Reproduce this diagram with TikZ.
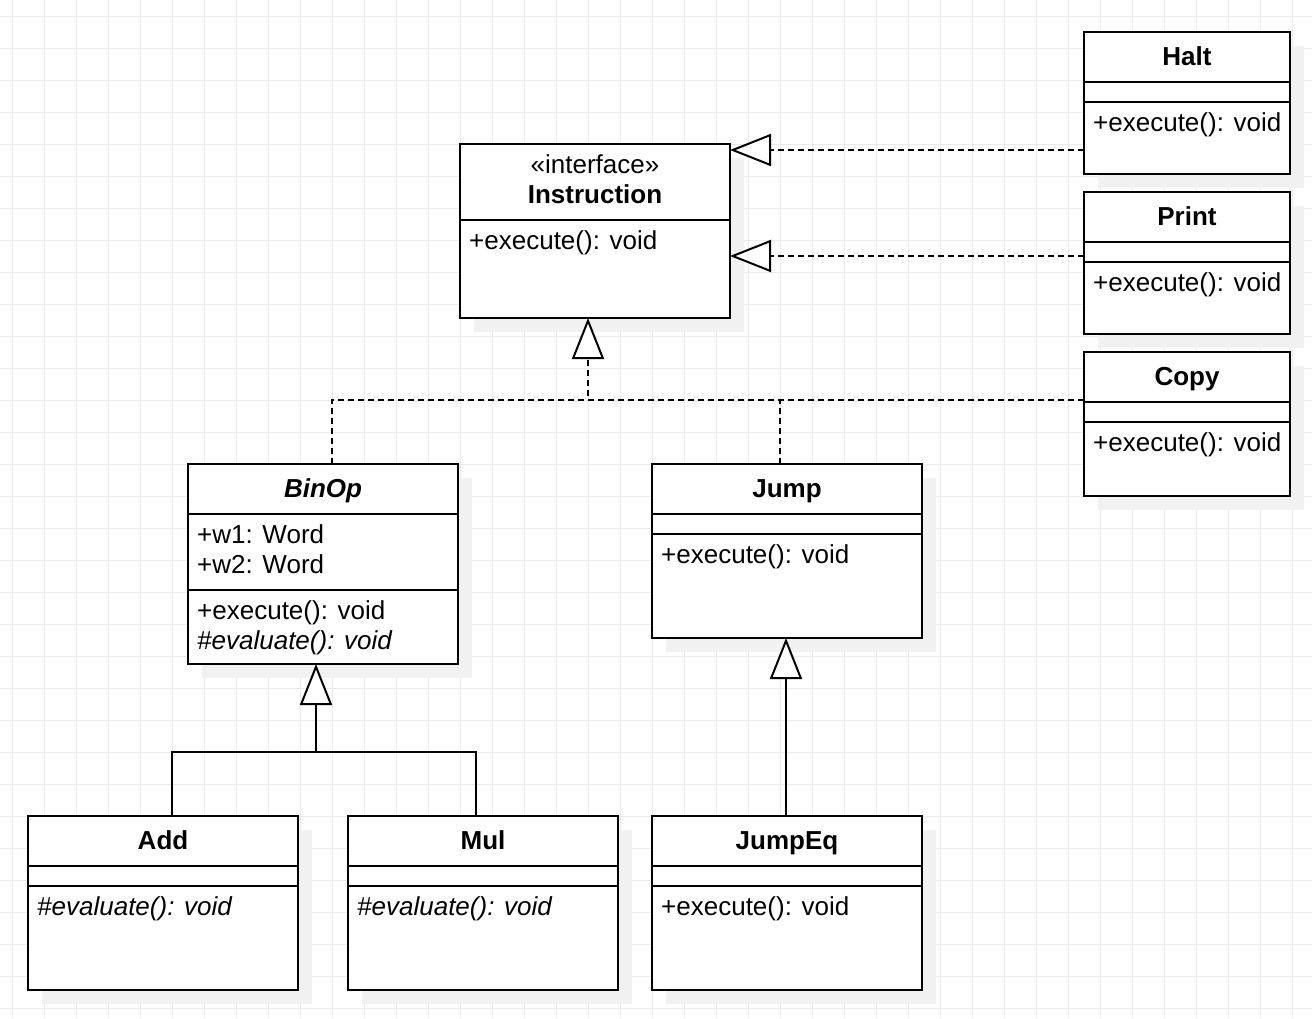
\documentclass[tikz,border=0pt]{standalone}
\usepackage{fontspec}
\setmainfont{Liberation Sans}
\usetikzlibrary{arrows.meta,shadows,calc}
\definecolor{gridc}{RGB}{234,234,234}
\definecolor{shc}{RGB}{241,241,241}
\newcommand{\umlfs}{\fontsize{26pt}{30pt}\selectfont}
\tikzset{
  cls/.style={draw, line width=2pt, fill=white, anchor=north west, inner sep=0pt, outer sep=0pt,
              general shadow={fill=shc, shadow xshift=14pt, shadow yshift=-14pt}},
  ttl/.style={anchor=base, inner sep=0pt, font=\umlfs\bfseries},
  mem/.style={anchor=base west, inner sep=0pt, font=\umlfs},
  memit/.style={anchor=base west, inner sep=0pt, font=\umlfs\itshape},
  sepl/.style={line width=2pt},
  gridline/.style={gridc, line width=1pt},
  real/.style={line width=2pt, -{Triangle[length=41pt, width=32pt, fill=white, line join=miter]}},
  realdash/.style={real, dash pattern=on 6pt off 4pt},
  conn/.style={line width=2pt},
  conndash/.style={conn, dash pattern=on 6pt off 4pt}
}
\newcommand{\ucls}[6]{%
  \node[cls, minimum width=#4pt, minimum height=#5pt] (#1) at (#2,#3) {};
  \node[ttl] (#1-t) at ([yshift=-33pt]#1.north) {#6};
}
\newcommand{\usep}[2]{%
  \draw[sepl] ([yshift=-#2pt]#1.north west) -- ([yshift=-#2pt]#1.north east);
}
\begin{document}
\begin{tikzpicture}[x=1pt, y=-1pt, font=\umlfs]
\useasboundingbox (0,0) rectangle (1312,1018);
\fill[white] (0,0) rectangle (1312,1018);
\foreach \i in {0,...,40} \draw[gridline] (12+32*\i,0) -- (12+32*\i,1018);
\foreach \j in {0,...,31} \draw[gridline] (0,16+32*\j) -- (1312,16+32*\j);

% Halt
\ucls{Halt}{1084}{32}{206}{142}{Halt}
\usep{Halt}{50}\usep{Halt}{70}
\node[mem] (Halt-m) at ([xshift=9pt,yshift=-99pt]Halt.north west) {+execute(): void};
% Print
\ucls{Print}{1084}{192}{206}{142}{Print}
\usep{Print}{50}\usep{Print}{70}
\node[mem] (Print-m) at ([xshift=9pt,yshift=-99pt]Print.north west) {+execute(): void};
% Copy
\ucls{Copy}{1084}{352}{206}{144}{Copy}
\usep{Copy}{50}\usep{Copy}{70}
\node[mem] (Copy-m) at ([xshift=9pt,yshift=-99pt]Copy.north west) {+execute(): void};

% Instruction
\node[cls, minimum width=270pt, minimum height=174pt] (Instr) at (460,144) {};
\node[anchor=base, inner sep=0pt, font=\umlfs] (Instr-s) at ([yshift=-29pt]Instr.north) {«interface»};
\node[ttl] (Instr-t) at ([yshift=-59pt]Instr.north) {Instruction};
\usep{Instr}{76}
\node[mem] (Instr-m) at ([xshift=9pt,yshift=-105pt]Instr.north west) {+execute(): void};

% BinOp
\node[cls, minimum width=270pt, minimum height=200pt] (BinOp) at (188,464) {};
\node[ttl, font=\umlfs\bfseries\itshape] (BinOp-t) at ([yshift=-33pt]BinOp.north) {BinOp};
\usep{BinOp}{50}
\node[mem] (BinOp-a1) at ([xshift=9pt,yshift=-79pt]BinOp.north west) {+w1: Word};
\node[mem] (BinOp-a2) at ([xshift=9pt,yshift=-109pt]BinOp.north west) {+w2: Word};
\usep{BinOp}{126}
\node[mem] (BinOp-m1) at ([xshift=9pt,yshift=-155pt]BinOp.north west) {+execute(): void};
\node[memit] (BinOp-m2) at ([xshift=9pt,yshift=-185pt]BinOp.north west) {\#evaluate(): void};

% Jump
\ucls{Jump}{652}{464}{270}{174}{Jump}
\usep{Jump}{50}\usep{Jump}{70}
\node[mem] (Jump-m) at ([xshift=9pt,yshift=-99pt]Jump.north west) {+execute(): void};

% Add
\ucls{Add}{28}{816}{270}{174}{Add}
\usep{Add}{50}\usep{Add}{70}
\node[memit] (Add-m) at ([xshift=9pt,yshift=-99pt]Add.north west) {\#evaluate(): void};
% Mul
\ucls{Mul}{348}{816}{270}{174}{Mul}
\usep{Mul}{50}\usep{Mul}{70}
\node[memit] (Mul-m) at ([xshift=9pt,yshift=-99pt]Mul.north west) {\#evaluate(): void};
% JumpEq
\ucls{JumpEq}{652}{816}{270}{174}{JumpEq}
\usep{JumpEq}{50}\usep{JumpEq}{70}
\node[mem] (JumpEq-m) at ([xshift=9pt,yshift=-99pt]JumpEq.north west) {+execute(): void};

% connectors
\coordinate (hA) at ([yshift=-118pt]Halt.north west);
\coordinate (pA) at ([yshift=-64pt]Print.north west);
\coordinate (cA) at ([yshift=-48pt]Copy.north west);
\coordinate (iT) at ([xshift=-7pt]Instr.south);
\coordinate (J) at (iT |- cA);
\draw[realdash] (hA) -- (hA -| Instr.east);
\draw[realdash] (pA) -- (pA -| Instr.east);
\draw[realdash] (cA) -| (iT);
\draw[conndash] ([xshift=9pt]BinOp.north) |- (J);
\draw[conndash] ([xshift=-7pt]Jump.north) |- (J);

\coordinate (bT) at ([xshift=-7pt]BinOp.south);
\coordinate (K) at ([yshift=-88pt]bT);
\draw[conn] ([xshift=9pt]Add.north) |- (K);
\draw[conn] ([xshift=-7pt]Mul.north) |- (K);
\draw[real] (K) -- (bT);
\draw[real] ([xshift=-1pt]JumpEq.north) -- ([xshift=-1pt]Jump.south);
\end{tikzpicture}
\end{document}
